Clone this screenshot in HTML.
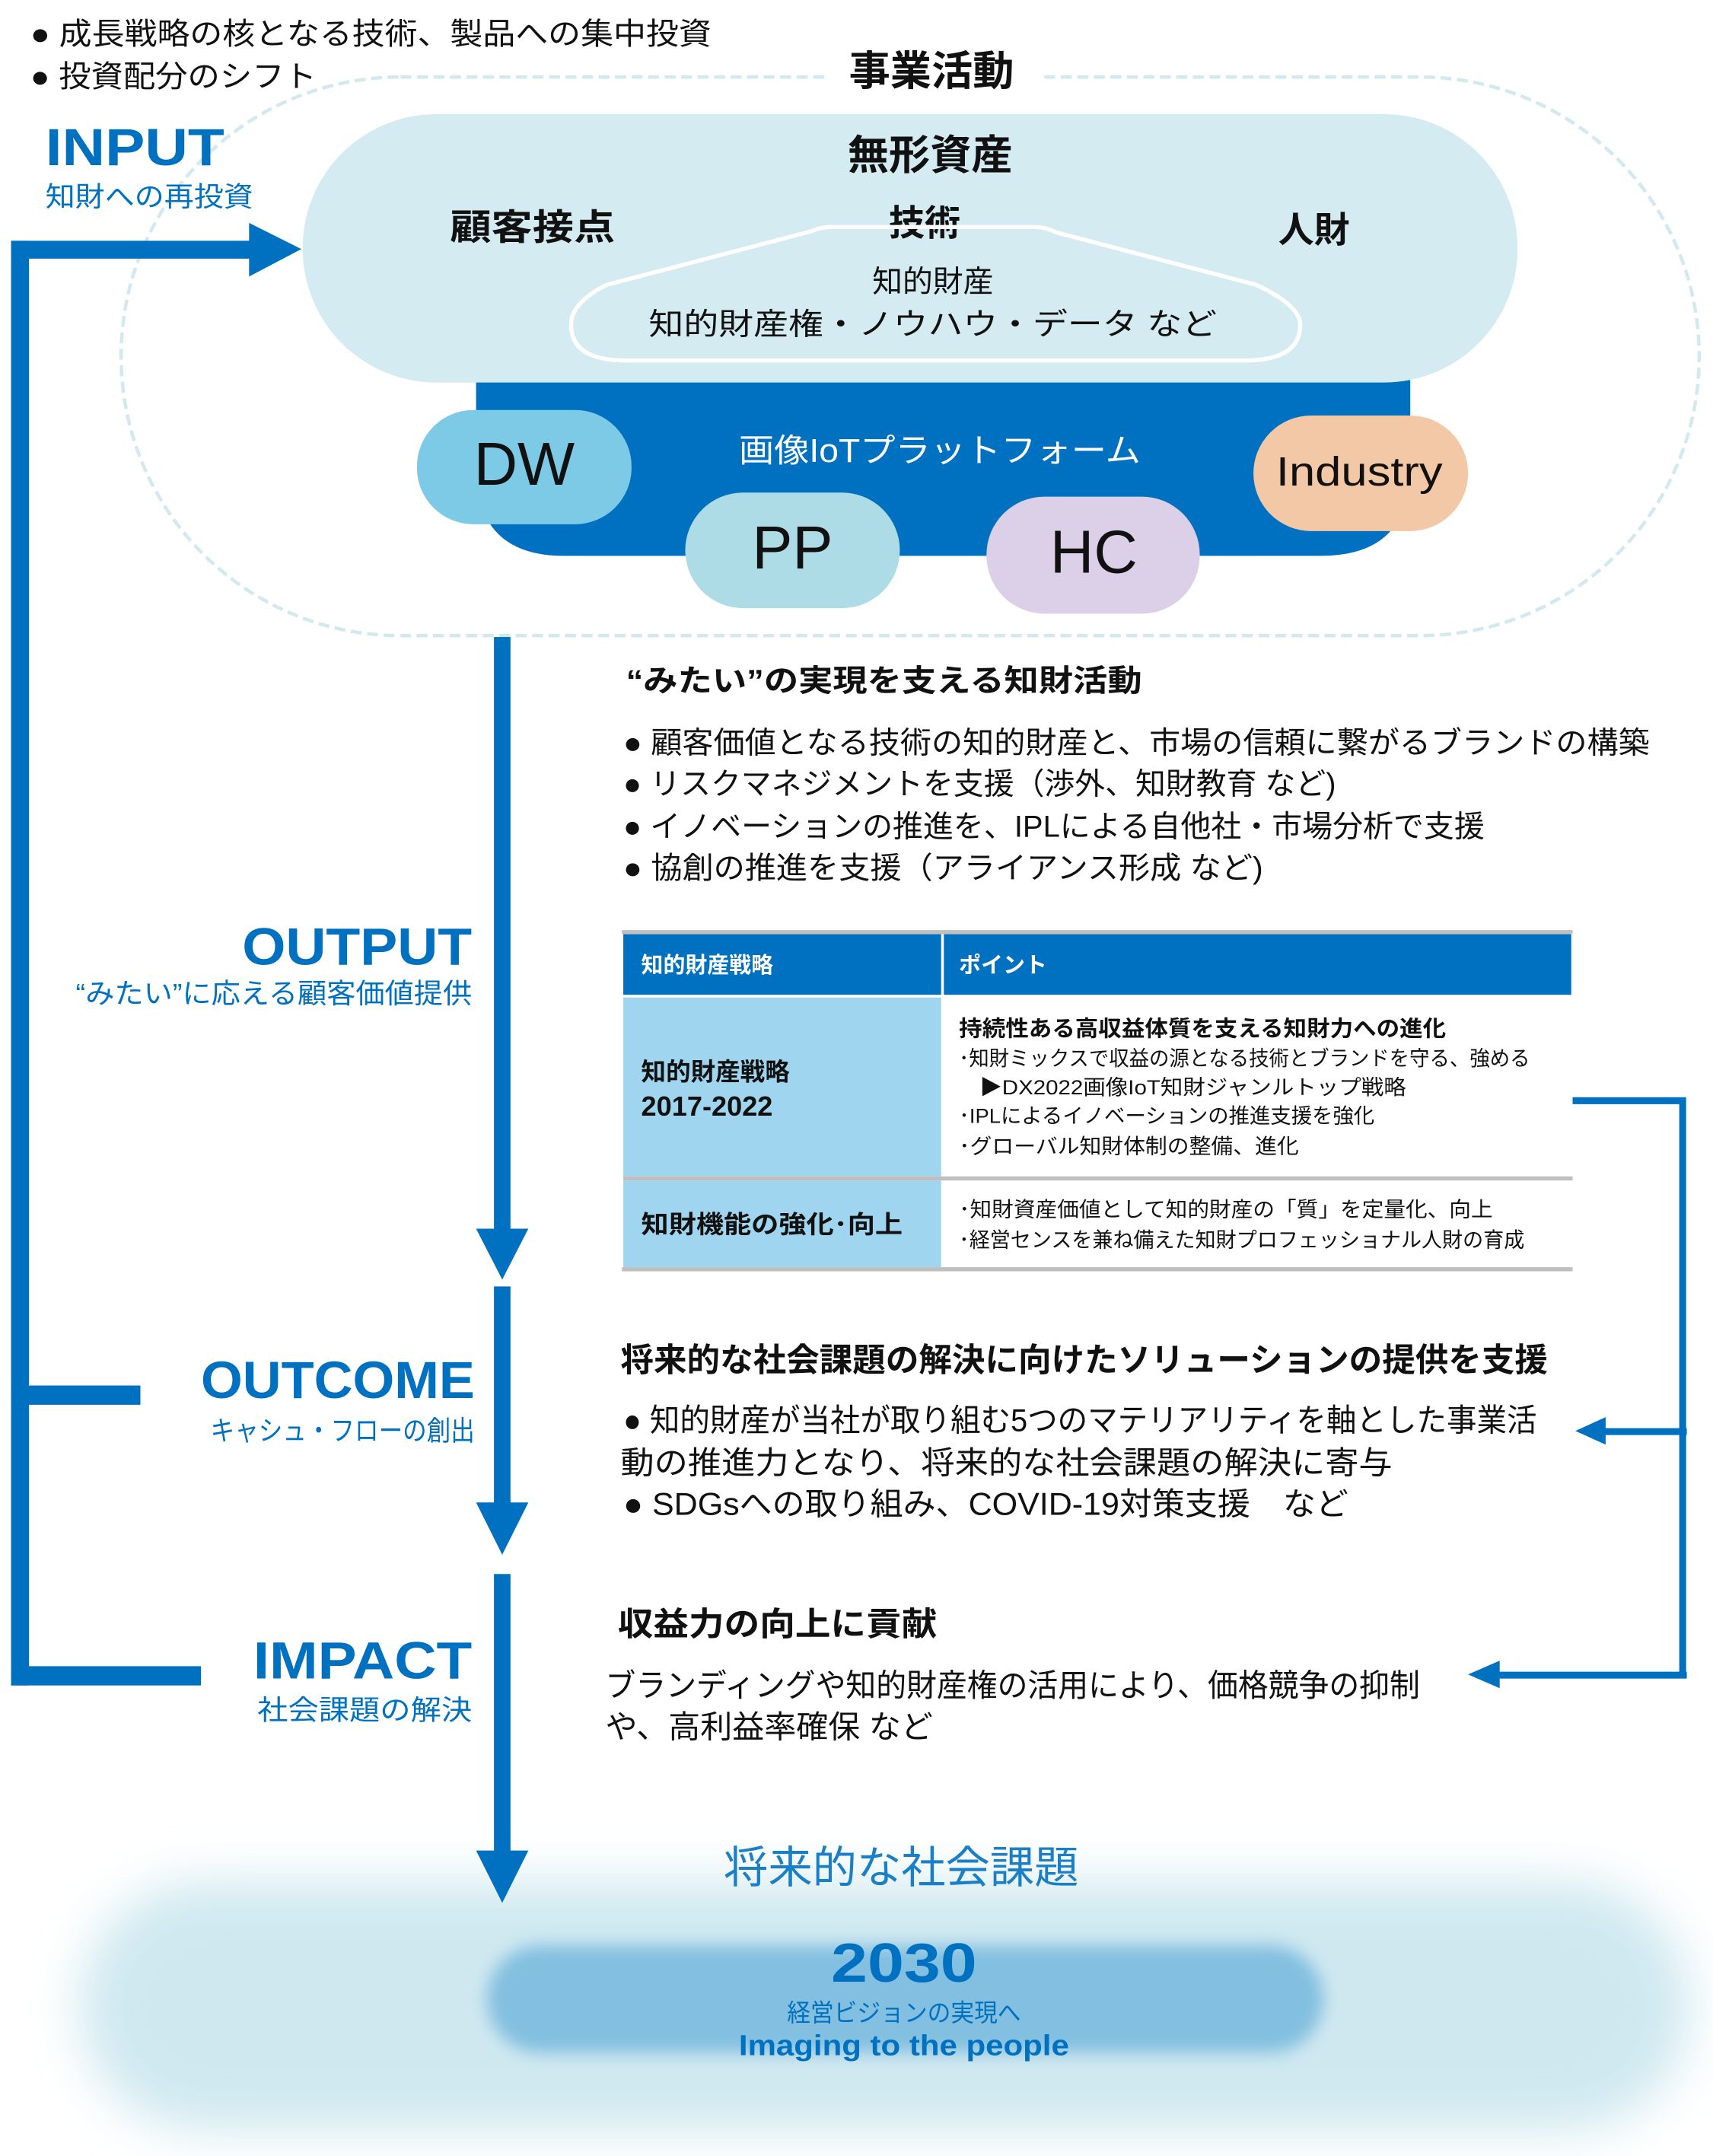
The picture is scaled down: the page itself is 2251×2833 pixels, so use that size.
<!DOCTYPE html>
<html><head><meta charset="utf-8"><style>
html,body{margin:0;padding:0;background:#fff;}
svg{display:block;}
text{font-family:"Liberation Sans","Noto Sans CJK JP",sans-serif;}
.b{font-weight:bold;}
</style></head><body>
<svg width="2251" height="2833" viewBox="0 0 1245 1567" xmlns="http://www.w3.org/2000/svg">
<defs>
<filter id="bl1" x="-20%" y="-40%" width="140%" height="180%"><feGaussianBlur stdDeviation="18"/></filter>
<filter id="bl2" x="-20%" y="-40%" width="140%" height="180%"><feGaussianBlur stdDeviation="6"/></filter>
</defs>
<rect width="1245" height="1567" fill="#fff"/>

<rect x="58" y="1368" width="1170" height="180" rx="90" fill="#cfe8f0" filter="url(#bl1)"/>
<rect x="354" y="1414" width="608" height="78" rx="39" fill="#82bfe0" filter="url(#bl2)"/>

<rect x="88" y="56" width="1147" height="406" rx="203" fill="none" stroke="#d3e9f0" stroke-width="2.5" stroke-dasharray="8 4"/>
<rect x="600" y="40" width="155" height="30" fill="#fff"/>

<text x="22" y="25" font-size="22" dominant-baseline="central" fill="#111" textLength="495" lengthAdjust="spacingAndGlyphs">● 成長戦略の核となる技術、製品への集中投資</text>
<text x="22" y="56" font-size="22" dominant-baseline="central" fill="#111" textLength="208" lengthAdjust="spacingAndGlyphs">● 投資配分のシフト</text>
<text x="677" y="52" font-size="30" class="b" text-anchor="middle" dominant-baseline="central" fill="#111">事業活動</text>

<path d="M346 270 H1025 V340 Q1025 404 960 404 H410 Q346 404 346 340 Z" fill="#0070c0"/>
<rect x="220" y="83" width="883" height="195" rx="97" fill="#d3ebf1"/>
<text x="676" y="113" font-size="30" class="b" text-anchor="middle" dominant-baseline="central" fill="#111">無形資産</text>
<text x="387" y="165" font-size="26" class="b" text-anchor="middle" dominant-baseline="central" fill="#111" textLength="120" lengthAdjust="spacingAndGlyphs">顧客接点</text>
<text x="672" y="162" font-size="26" class="b" text-anchor="middle" dominant-baseline="central" fill="#111">技術</text>
<text x="955" y="167" font-size="26" class="b" text-anchor="middle" dominant-baseline="central" fill="#111">人財</text>
<path d="M441 207 L590 168 Q596 165 605 165 H752 Q760 165 768 169 L913 207 Q945 222 945 236 Q945 262 905 262 H455 Q415 262 415 236 Q415 220 441 207 Z" fill="none" stroke="#fff" stroke-width="3"/>
<text x="678" y="205" font-size="22" text-anchor="middle" dominant-baseline="central" fill="#111">知的財産</text>
<text x="678" y="236" font-size="22" text-anchor="middle" dominant-baseline="central" fill="#111" textLength="413" lengthAdjust="spacingAndGlyphs">知的財産権・ノウハウ・データ など</text>

<text x="683" y="328" font-size="24" text-anchor="middle" dominant-baseline="central" fill="#fff" textLength="292" lengthAdjust="spacingAndGlyphs">画像IoTプラットフォーム</text>
<rect x="303" y="298" width="156" height="83" rx="41" fill="#7ccae6"/>
<text x="381" y="337" font-size="44" text-anchor="middle" dominant-baseline="central" fill="#111">DW</text>
<rect x="498" y="358" width="156" height="84" rx="42" fill="#addce6"/>
<text x="576" y="398" font-size="44" text-anchor="middle" dominant-baseline="central" fill="#111">PP</text>
<rect x="717" y="361" width="155" height="85" rx="42" fill="#dccfe8"/>
<text x="795" y="401" font-size="44" text-anchor="middle" dominant-baseline="central" fill="#111">HC</text>
<rect x="911" y="302" width="156" height="84" rx="42" fill="#f3c8a7"/>
<text x="988" y="343" font-size="30" text-anchor="middle" dominant-baseline="central" fill="#111" textLength="121" lengthAdjust="spacingAndGlyphs">Industry</text>

<text x="33" y="107" font-size="38" class="b" dominant-baseline="central" fill="#0070c0" textLength="130" lengthAdjust="spacingAndGlyphs">INPUT</text>
<text x="33" y="143" font-size="20" dominant-baseline="central" fill="#0070c0" textLength="151" lengthAdjust="spacingAndGlyphs">知財への再投資</text>
<rect x="8" y="175" width="13" height="1050" fill="#0070c0"/>
<rect x="8" y="175" width="176" height="13" fill="#0070c0"/>
<polygon points="181,162 219,181 181,201" fill="#0070c0"/>
<rect x="8" y="1007" width="94" height="14" fill="#0070c0"/>
<rect x="8" y="1211" width="138" height="14" fill="#0070c0"/>

<rect x="359" y="463" width="12" height="432" fill="#0070c0"/>
<polygon points="346,893 384,893 365,930" fill="#0070c0"/>
<rect x="359" y="935" width="12" height="160" fill="#0070c0"/>
<polygon points="346,1092 384,1092 365,1130" fill="#0070c0"/>
<rect x="359" y="1144" width="12" height="203" fill="#0070c0"/>
<polygon points="346,1345 384,1345 365,1383" fill="#0070c0"/>

<text x="343" y="688" font-size="38" class="b" text-anchor="end" dominant-baseline="central" fill="#0070c0" textLength="167" lengthAdjust="spacingAndGlyphs">OUTPUT</text>
<text x="343" y="722" font-size="20" text-anchor="end" dominant-baseline="central" fill="#0070c0" textLength="288" lengthAdjust="spacingAndGlyphs">“みたい”に応える顧客価値提供</text>
<text x="345" y="1003" font-size="38" class="b" text-anchor="end" dominant-baseline="central" fill="#0070c0" textLength="199" lengthAdjust="spacingAndGlyphs">OUTCOME</text>
<text x="345" y="1040" font-size="20" text-anchor="end" dominant-baseline="central" fill="#0070c0" textLength="192" lengthAdjust="spacingAndGlyphs">キャシュ・フローの創出</text>
<text x="343" y="1207" font-size="38" class="b" text-anchor="end" dominant-baseline="central" fill="#0070c0" textLength="159" lengthAdjust="spacingAndGlyphs">IMPACT</text>
<text x="343" y="1243" font-size="20" text-anchor="end" dominant-baseline="central" fill="#0070c0" textLength="156" lengthAdjust="spacingAndGlyphs">社会課題の解決</text>

<text x="455" y="495" font-size="22" class="b" dominant-baseline="central" fill="#111" textLength="375" lengthAdjust="spacingAndGlyphs">“みたい”の実現を支える知財活動</text>
<g font-size="22" fill="#111">
<text x="453" y="540" dominant-baseline="central" textLength="746" lengthAdjust="spacingAndGlyphs">● 顧客価値となる技術の知的財産と、市場の信頼に繋がるブランドの構築</text>
<text x="453" y="570" dominant-baseline="central" textLength="518" lengthAdjust="spacingAndGlyphs">● リスクマネジメントを支援（渉外、知財教育 など)</text>
<text x="453" y="601" dominant-baseline="central" textLength="626" lengthAdjust="spacingAndGlyphs">● イノベーションの推進を、IPLによる自他社・市場分析で支援</text>
<text x="453" y="631" dominant-baseline="central" textLength="465" lengthAdjust="spacingAndGlyphs">● 協創の推進を支援（アライアンス形成 など)</text>
</g>

<rect x="452" y="676" width="691" height="3" fill="#bfbfbf"/>
<rect x="453" y="679" width="231" height="44" fill="#0070c0"/>
<rect x="686" y="679" width="456" height="44" fill="#0070c0"/>
<rect x="453" y="725" width="231" height="130" fill="#9fd5ee"/>
<rect x="453" y="858" width="231" height="63" fill="#9fd5ee"/>
<rect x="453" y="855" width="690" height="3" fill="#bfbfbf"/>
<rect x="452" y="921" width="691" height="3" fill="#bfbfbf"/>
<text x="466" y="702" font-size="16" class="b" dominant-baseline="central" fill="#fff">知的財産戦略</text>
<text x="697" y="702" font-size="16" class="b" dominant-baseline="central" fill="#fff">ポイント</text>
<text x="466" y="779" font-size="18" class="b" dominant-baseline="central" fill="#111">知的財産戦略</text>
<text x="466" y="804" font-size="20" class="b" dominant-baseline="central" fill="#111">2017-2022</text>
<text x="466" y="890" font-size="18" class="b" dominant-baseline="central" fill="#111" textLength="190" lengthAdjust="spacingAndGlyphs">知財機能の強化･向上</text>
<text x="697" y="748" font-size="16" class="b" dominant-baseline="central" fill="#111" textLength="354" lengthAdjust="spacingAndGlyphs">持続性ある高収益体質を支える知財力への進化</text>
<g font-size="15" fill="#111">
<text x="697" y="769" dominant-baseline="central" textLength="415" lengthAdjust="spacingAndGlyphs">･知財ミックスで収益の源となる技術とブランドを守る、強める</text>
<text x="712" y="790" dominant-baseline="central" textLength="310" lengthAdjust="spacingAndGlyphs">▶DX2022画像IoT知財ジャンルトップ戦略</text>
<text x="697" y="811" dominant-baseline="central" textLength="302" lengthAdjust="spacingAndGlyphs">･IPLによるイノベーションの推進支援を強化</text>
<text x="697" y="833" dominant-baseline="central" textLength="247" lengthAdjust="spacingAndGlyphs">･グローバル知財体制の整備、進化</text>
<text x="697" y="879" dominant-baseline="central" textLength="388" lengthAdjust="spacingAndGlyphs">･知財資産価値として知的財産の「質」を定量化、向上</text>
<text x="697" y="901" dominant-baseline="central" textLength="411" lengthAdjust="spacingAndGlyphs">･経営センスを兼ね備えた知財プロフェッショナル人財の育成</text>
</g>

<path d="M1143 800 H1223 V1219" fill="none" stroke="#0070c0" stroke-width="5"/>
<rect x="1160" y="1038" width="66" height="5" fill="#0070c0"/>
<polygon points="1145,1040 1167,1030 1167,1050" fill="#0070c0"/>
<rect x="1085" y="1215" width="141" height="5" fill="#0070c0"/>
<polygon points="1067,1217 1090,1207 1090,1227" fill="#0070c0"/>

<text x="451" y="989" font-size="24" class="b" dominant-baseline="central" fill="#111" textLength="674" lengthAdjust="spacingAndGlyphs">将来的な社会課題の解決に向けたソリューションの提供を支援</text>
<g font-size="23" fill="#111">
<text x="453" y="1032" dominant-baseline="central" textLength="664" lengthAdjust="spacingAndGlyphs">● 知的財産が当社が取り組む5つのマテリアリティを軸とした事業活</text>
<text x="451" y="1063" dominant-baseline="central" textLength="561" lengthAdjust="spacingAndGlyphs">動の推進力となり、将来的な社会課題の解決に寄与</text>
<text x="453" y="1093" dominant-baseline="central" textLength="527" lengthAdjust="spacingAndGlyphs">● SDGsへの取り組み、COVID-19対策支援　など</text>
</g>
<text x="449" y="1181" font-size="24" class="b" dominant-baseline="central" fill="#111" textLength="232" lengthAdjust="spacingAndGlyphs">収益力の向上に貢献</text>
<g font-size="23" fill="#111">
<text x="440" y="1225" dominant-baseline="central" textLength="592" lengthAdjust="spacingAndGlyphs">ブランディングや知的財産権の活用により、価格競争の抑制</text>
<text x="440" y="1255" dominant-baseline="central" textLength="238" lengthAdjust="spacingAndGlyphs">や、高利益率確保 など</text>
</g>

<text x="655" y="1358" font-size="32" text-anchor="middle" dominant-baseline="central" fill="#1b7fc7" textLength="258" lengthAdjust="spacingAndGlyphs">将来的な社会課題</text>
<text x="657" y="1427" font-size="40" class="b" text-anchor="middle" dominant-baseline="central" fill="#0070c0" textLength="106" lengthAdjust="spacingAndGlyphs">2030</text>
<text x="657" y="1463" font-size="18" text-anchor="middle" dominant-baseline="central" fill="#0070c0" textLength="170" lengthAdjust="spacingAndGlyphs">経営ビジョンの実現へ</text>
<text x="657" y="1487" font-size="21" class="b" text-anchor="middle" dominant-baseline="central" fill="#0070c0" textLength="240" lengthAdjust="spacingAndGlyphs">Imaging to the people</text>
</svg>
</body></html>
